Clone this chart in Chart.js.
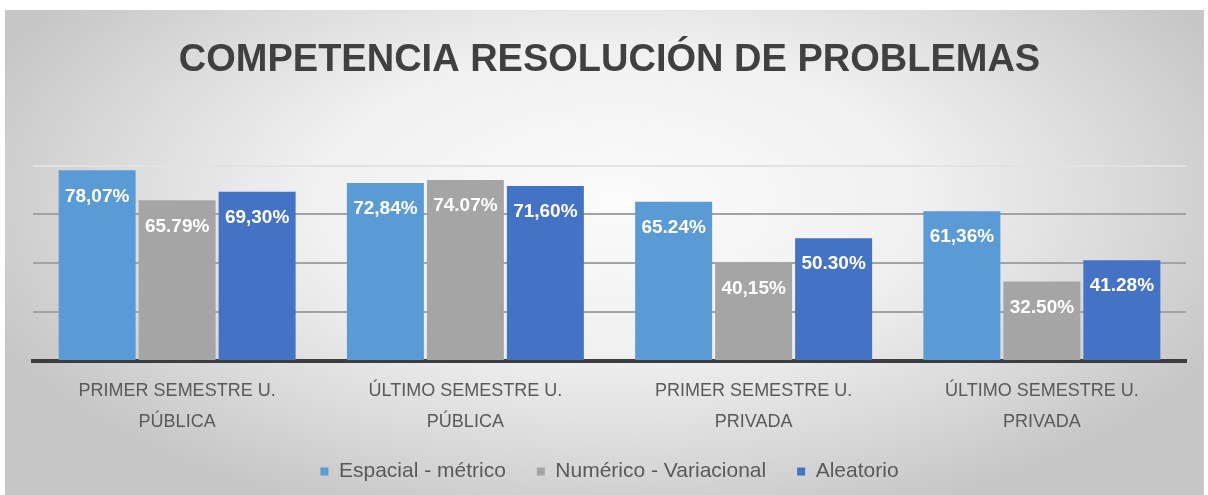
<!DOCTYPE html>
<html>
<head>
<meta charset="utf-8">
<script src="https://cdn.jsdelivr.net/npm/chart.js@4/dist/chart.umd.min.js"></script>
<style>
  html, body { margin: 0; padding: 0; background: #ffffff; }
  #wrap { width: 1208px; height: 495px; position: relative; }
</style>
</head>
<body>
<div id="wrap"><canvas id="c"></canvas></div>
<script>
const categories = [
  ['PRIMER SEMESTRE U.', 'PÚBLICA'],
  ['ÚLTIMO SEMESTRE U.', 'PÚBLICA'],
  ['PRIMER SEMESTRE U.', 'PRIVADA'],
  ['ÚLTIMO SEMESTRE U.', 'PRIVADA']
];
const seriesNames = ['Espacial - métrico', 'Numérico - Variacional', 'Aleatorio'];
const espacialMetrico = [78.07, 72.84, 65.24, 61.36];
const numericoVariacional = [65.79, 74.07, 40.15, 32.50];
const aleatorio = [69.30, 71.60, 50.30, 41.28];
const espacialLabels = ['78,07%', '72,84%', '65.24%', '61,36%'];
const numericoLabels = ['65.79%', '74.07%', '40,15%', '32.50%'];
const aleatorioLabels = ['69,30%', '71,60%', '50.30%', '41.28%'];
const yTicks = [0, 20, 40, 60, 80];
const titleText = 'COMPETENCIA RESOLUCIÓN DE PROBLEMAS';

const bgPlugin = {
  id: 'bg',
  beforeDraw(chart) {
    const ctx = chart.ctx;
    const w = chart.width, h = chart.height;
    ctx.save();
    ctx.fillStyle = '#ffffff';
    ctx.fillRect(0, 0, w, h);
    const x0 = 5, y0 = 10, x1 = 1204, y1 = h;
    ctx.beginPath();
    ctx.rect(x0, y0, x1 - x0, y1 - y0);
    ctx.clip();
    const cx = 615, cy = 200;
    ctx.translate(cx, cy);
    ctx.scale(1, 0.5);
    const g = ctx.createRadialGradient(0, 0, 0, 0, 0, 680);
    g.addColorStop(0, '#fbfbfb');
    g.addColorStop(0.45, '#f0f0f0');
    g.addColorStop(0.75, '#dadada');
    g.addColorStop(1, '#c6c6c6');
    ctx.fillStyle = g;
    ctx.fillRect(-1000, -1200, 2000, 2400);
    ctx.restore();
  }
};

const labelPlugin = {
  id: 'barLabels',
  afterDatasetsDraw(chart) {
    const ctx = chart.ctx;
    ctx.save();
    ctx.font = 'bold 19px "Liberation Sans", Arial, sans-serif';
    ctx.fillStyle = '#ffffff';
    ctx.textAlign = 'center';
    ctx.textBaseline = 'middle';
    chart.data.datasets.forEach((ds, i) => {
      const meta = chart.getDatasetMeta(i);
      meta.data.forEach((bar, j) => {
        ctx.fillText(ds.valueLabels[j], bar.x, bar.y + 26);
      });
    });
    ctx.restore();
  }
};

new Chart(document.getElementById('c'), {
  type: 'bar',
  data: {
    labels: categories,
    datasets: [
      { label: seriesNames[0], data: espacialMetrico, valueLabels: espacialLabels, backgroundColor: '#5b9bd5', borderWidth: 0 },
      { label: seriesNames[1], data: numericoVariacional, valueLabels: numericoLabels, backgroundColor: '#a5a5a5', borderWidth: 0 },
      { label: seriesNames[2], data: aleatorio, valueLabels: aleatorioLabels, backgroundColor: '#4472c4', borderWidth: 0 }
    ]
  },
  options: {
    responsive: true,
    maintainAspectRatio: false,
    animation: false,
    datasets: { bar: { categoryPercentage: 0.8325, barPercentage: 0.9625 } },
    layout: { padding: { top: 10, left: 33, right: 22, bottom: 3 } },
    plugins: {
      title: {
        display: true,
        text: titleText,
        color: '#404040',
        font: { family: '"Liberation Sans", Arial, sans-serif', size: 38, weight: 'bold' },
        padding: { top: 28, bottom: 82 }
      },
      legend: {
        position: 'bottom',
        labels: {
          color: '#595959',
          font: { family: '"Liberation Sans", Arial, sans-serif', size: 21 },
          boxWidth: 8,
          boxHeight: 8,
          padding: 31
        }
      },
      tooltip: { enabled: false }
    },
    scales: {
      x: {
        grid: { display: false, drawTicks: false },
        border: { display: true, color: '#3d3d3d', width: 4 },
        afterFit(scale) { scale.height = 69; },
        ticks: {
          color: '#595959',
          padding: 14,
          maxRotation: 0,
          autoSkip: false,
          font: { family: '"Liberation Sans", Arial, sans-serif', size: 18, lineHeight: 1.75 }
        }
      },
      y: {
        min: yTicks[0],
        max: yTicks[yTicks.length - 1],
        afterBuildTicks(scale) { scale.ticks = yTicks.map(v => ({ value: v })); },
        ticks: { display: false },
        border: { display: false },
        grid: {
          drawTicks: false,
          lineWidth: 2,
          color(ctx) {
            const v = ctx.tick && ctx.tick.value;
            if (v === 0) return 'rgba(0,0,0,0)';
            if (v === 80) return '#e2e2e2';
            return '#a3a3a3';
          }
        }
      }
    }
  },
  plugins: [bgPlugin, labelPlugin]
});
</script>
</body>
</html>
